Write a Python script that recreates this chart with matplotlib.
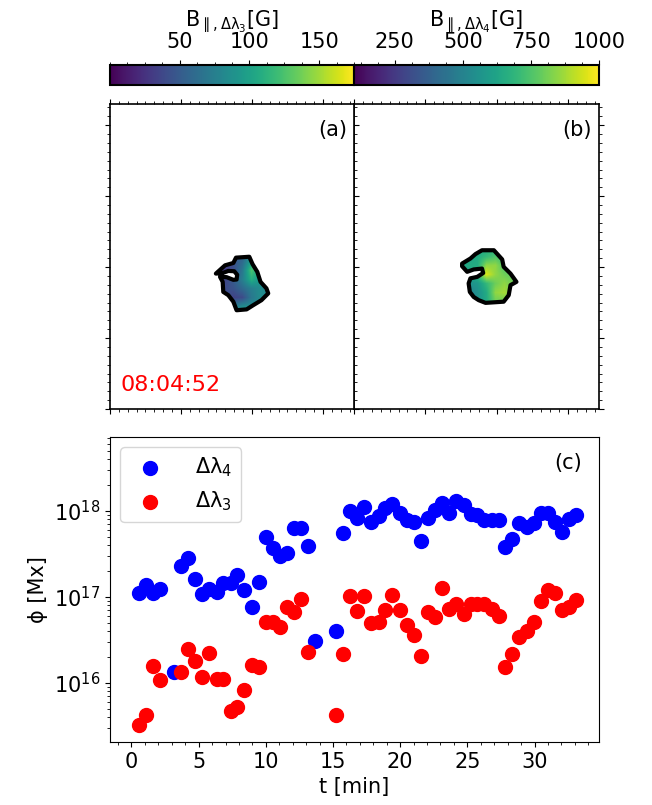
import matplotlib
matplotlib.use("Agg")
import matplotlib.pyplot as plt
import numpy as np
from matplotlib.patches import Polygon
from matplotlib.colors import Normalize
from matplotlib.ticker import MultipleLocator, AutoMinorLocator, LogLocator, NullFormatter

plt.rcParams['font.size'] = 15

# flux time series (panel c)
t_blue = [0.56, 1.08, 1.58, 2.12, 3.16, 3.68, 4.20, 4.74, 5.26, 5.78, 6.33, 6.83,
          7.38, 7.87, 8.39, 8.94, 9.48, 9.98, 10.50, 11.04, 11.58, 12.08, 12.62,
          13.14, 13.67, 15.23, 15.78, 16.30, 16.82, 17.31, 17.86, 18.40, 18.90,
          19.42, 19.96, 20.51, 21.06, 21.52, 22.04, 22.59, 23.11, 23.63, 24.18,
          24.72, 25.24, 25.74, 26.23, 26.80, 27.35, 27.82, 28.36, 28.88, 29.41,
          29.95, 30.47, 31.04, 31.54, 32.03, 32.55, 33.10]
phi_blue = [1.11e17, 1.37e17, 1.10e17, 1.22e17, 1.32e16, 2.28e17, 2.84e17, 1.62e17,
            1.08e17, 1.22e17, 1.13e17, 1.43e17, 1.43e17, 1.77e17, 1.20e17, 7.65e16,
            1.47e17, 4.99e17, 3.72e17, 2.97e17, 3.25e17, 6.24e17, 6.29e17, 3.89e17,
            3.08e16, 4.03e16, 5.46e17, 9.93e17, 8.16e17, 1.11e18, 7.45e17, 8.67e17,
            1.07e18, 1.20e18, 9.48e17, 7.80e17, 7.45e17, 4.45e17, 8.16e17, 1.02e18,
            1.24e18, 9.33e17, 1.30e18, 1.16e18, 9.08e17, 8.92e17, 7.80e17, 7.80e17,
            7.80e17, 3.81e17, 4.64e17, 7.25e17, 6.51e17, 7.13e17, 9.33e17, 9.48e17,
            7.45e17, 5.61e17, 7.94e17, 8.92e17]

t_red = [0.56, 1.08, 1.58, 2.12, 3.68, 4.20, 4.74, 5.26, 5.78, 6.33, 6.83, 7.38,
         7.87, 8.39, 8.94, 9.48, 9.98, 10.50, 11.04, 11.58, 12.08, 12.62, 13.14,
         15.23, 15.78, 16.30, 16.82, 17.31, 17.86, 18.40, 18.90, 19.42, 19.96,
         20.51, 21.06, 21.52, 22.04, 22.59, 23.11, 23.63, 24.18, 24.72, 25.24,
         25.74, 26.23, 26.80, 27.35, 27.82, 28.36, 28.88, 29.41, 29.95, 30.47,
         31.04, 31.54, 32.03, 32.55, 33.10]
phi_red = [3.20e15, 4.21e15, 1.56e16, 1.07e16, 1.32e16, 2.47e16, 1.79e16, 1.16e16,
           2.23e16, 1.10e16, 1.10e16, 4.69e15, 5.18e15, 8.23e15, 1.59e16, 1.51e16,
           5.04e16, 5.12e16, 4.48e16, 7.65e16, 6.70e16, 9.34e16, 2.29e16, 4.21e15,
           2.16e16, 1.03e17, 6.88e16, 1.03e17, 4.99e16, 5.12e16, 7.00e16, 1.05e17,
           7.00e16, 4.69e16, 3.59e16, 2.04e16, 6.70e16, 5.85e16, 1.25e17, 7.19e16,
           8.23e16, 6.24e16, 8.23e16, 8.23e16, 8.23e16, 7.19e16, 6.01e16, 1.53e16,
           2.14e16, 3.37e16, 3.96e16, 5.12e16, 8.85e16, 1.20e17, 1.10e17, 7.00e16,
           7.65e16, 9.16e16]

# magnetogram patches (coarse field, rows from top) and contour outlines, in image pixels
field_a = [[40, 40, 50, 55, 60, 70, 70],
           [40, 35, 45, 60, 100, 90, 80],
           [25, 30, 40, 70, 125, 100, 80],
           [30, 35, 50, 75, 110, 90, 80],
           [30, 40, 45, 60, 75, 85, 80],
           [40, 45, 35, 40, 70, 85, 80],
           [60, 60, 70, 85, 85, 80, 80]]
extent_a = (34, 55, 33, 54)
contour_a = [(35.8, 45.8), (38.9, 48.6), (41.7, 49.4), (42.6, 51.2), (47.1, 51.5),
             (48.2, 49.0), (49.8, 46.4), (50.9, 43.0), (52.9, 40.8), (53.5, 39.1),
             (51.2, 36.8), (48.4, 35.1), (46.2, 33.7), (42.8, 33.4), (41.7, 36.3),
             (40.0, 38.5), (38.3, 39.6), (38.1, 43.0), (37.2, 44.7), (39.4, 44.6),
             (41.7, 43.7), (42.8, 43.8), (43.0, 45.4), (42.0, 46.6), (40.0, 46.7),
             (38.1, 46.0)]

field_b = [[600, 600, 620, 650, 650, 650, 650],
           [600, 620, 650, 700, 750, 700, 700],
           [620, 650, 650, 850, 850, 750, 750],
           [600, 600, 700, 950, 850, 800, 780],
           [550, 550, 580, 700, 800, 850, 800],
           [500, 500, 550, 650, 850, 880, 800],
           [500, 500, 550, 650, 800, 800, 800]]
extent_b = (34, 55, 35, 56)
contour_b = [(36.4, 49.2), (39.2, 50.9), (40.9, 52.4), (43.1, 53.7), (47.1, 53.7),
             (49.9, 50.6), (50.4, 48.1), (52.7, 45.8), (54.7, 43.0), (52.7, 41.9),
             (52.1, 38.5), (50.4, 36.3), (44.3, 35.9), (42.0, 36.8), (40.3, 37.9),
             (39.0, 39.6), (38.6, 42.5), (39.2, 44.2), (41.5, 44.7), (43.5, 46.0),
             (43.1, 47.5), (40.3, 47.2), (38.1, 46.4), (36.4, 48.3)]

fig = plt.figure(figsize=(6.52, 8.05), dpi=100)

W, H = 652.0, 805.0
def box(x0, y0, x1, y1):
    return [x0 / W, 1 - y1 / H, (x1 - x0) / W, (y1 - y0) / H]

cax_a = fig.add_axes(box(110, 65, 354, 85))
cax_b = fig.add_axes(box(354, 65, 599, 85))
ax_a = fig.add_axes(box(110, 104.5, 354, 409))
ax_b = fig.add_axes(box(354, 104.5, 599, 409))
ax_c = fig.add_axes(box(110, 437, 599, 742))
ax_a.set_zorder(3)

panels = [(ax_a, cax_a, field_a, extent_a, contour_a, Normalize(0, 175), '(a)',
           r'B$_{\parallel,\mathrm{\Delta\lambda_3}}$[G]', [50, 100, 150]),
          (ax_b, cax_b, field_b, extent_b, contour_b, Normalize(100, 1000), '(b)',
           r'B$_{\parallel,\mathrm{\Delta\lambda_4}}$[G]', [250, 500, 750, 1000])]

for ax, cax, field, ext, cont, norm, tag, clabel, cticks in panels:
    im = ax.imshow(np.array(field, dtype=float), extent=ext, origin='upper',
                   cmap='viridis', norm=norm, interpolation='bilinear')
    clip = Polygon(cont, closed=True, transform=ax.transData)
    im.set_clip_path(clip)
    ax.add_patch(Polygon(cont, closed=True, fill=False, edgecolor='k',
                         linewidth=3.0, joinstyle='round'))
    ax.set_aspect('auto')
    ax.set_xlim(0, 82.5)
    ax.set_ylim(0, 103)
    ax.xaxis.set_major_locator(MultipleLocator(24))
    ax.xaxis.set_minor_locator(MultipleLocator(3))
    ax.yaxis.set_major_locator(MultipleLocator(24))
    ax.yaxis.set_minor_locator(MultipleLocator(3))
    ax.tick_params(which='both', direction='out', top=True, right=True,
                   labelleft=False, labelbottom=False)
    for s in ax.spines.values():
        s.set_linewidth(1.2)
    ax.text(0.971, 0.916, tag, transform=ax.transAxes, ha='right', va='center')

    cb = fig.colorbar(im, cax=cax, orientation='horizontal')
    cb.set_ticks(cticks)
    cax.xaxis.set_ticks_position('top')
    cax.xaxis.set_label_position('top')
    cax.xaxis.set_minor_locator(AutoMinorLocator(4))
    cax.tick_params(axis='x', pad=6)
    cb.outline.set_linewidth(1.5)
    cb.set_label(clabel, fontsize=15, labelpad=4)

ax_b.tick_params(which='both', left=False)
ax_a.text(0.044, 0.079, '08:04:52', transform=ax_a.transAxes, color='red',
          fontsize=16, ha='left', va='center')

ax_c.scatter(t_blue, phi_blue, s=100, color='blue', label='Δλ$_4$', zorder=2)
ax_c.scatter(t_red, phi_red, s=100, color='red', label='Δλ$_3$', zorder=3)
ax_c.set_yscale('log')
ax_c.set_xlim(-1.6, 34.8)
ax_c.set_ylim(2.04e15, 7.2e18)
ax_c.xaxis.set_major_locator(MultipleLocator(5))
ax_c.xaxis.set_minor_locator(MultipleLocator(1))
ax_c.yaxis.set_minor_locator(LogLocator(subs=np.arange(2, 10)))
ax_c.yaxis.set_minor_formatter(NullFormatter())
ax_c.set_xlabel('t [min]')
ax_c.set_ylabel('ϕ [Mx]')
ax_c.text(0.965, 0.915, '(c)', transform=ax_c.transAxes, ha='right', va='center')
ax_c.legend(loc='upper left', handletextpad=1.2, fontsize=15)

plt.savefig('out.png', dpi=100)
